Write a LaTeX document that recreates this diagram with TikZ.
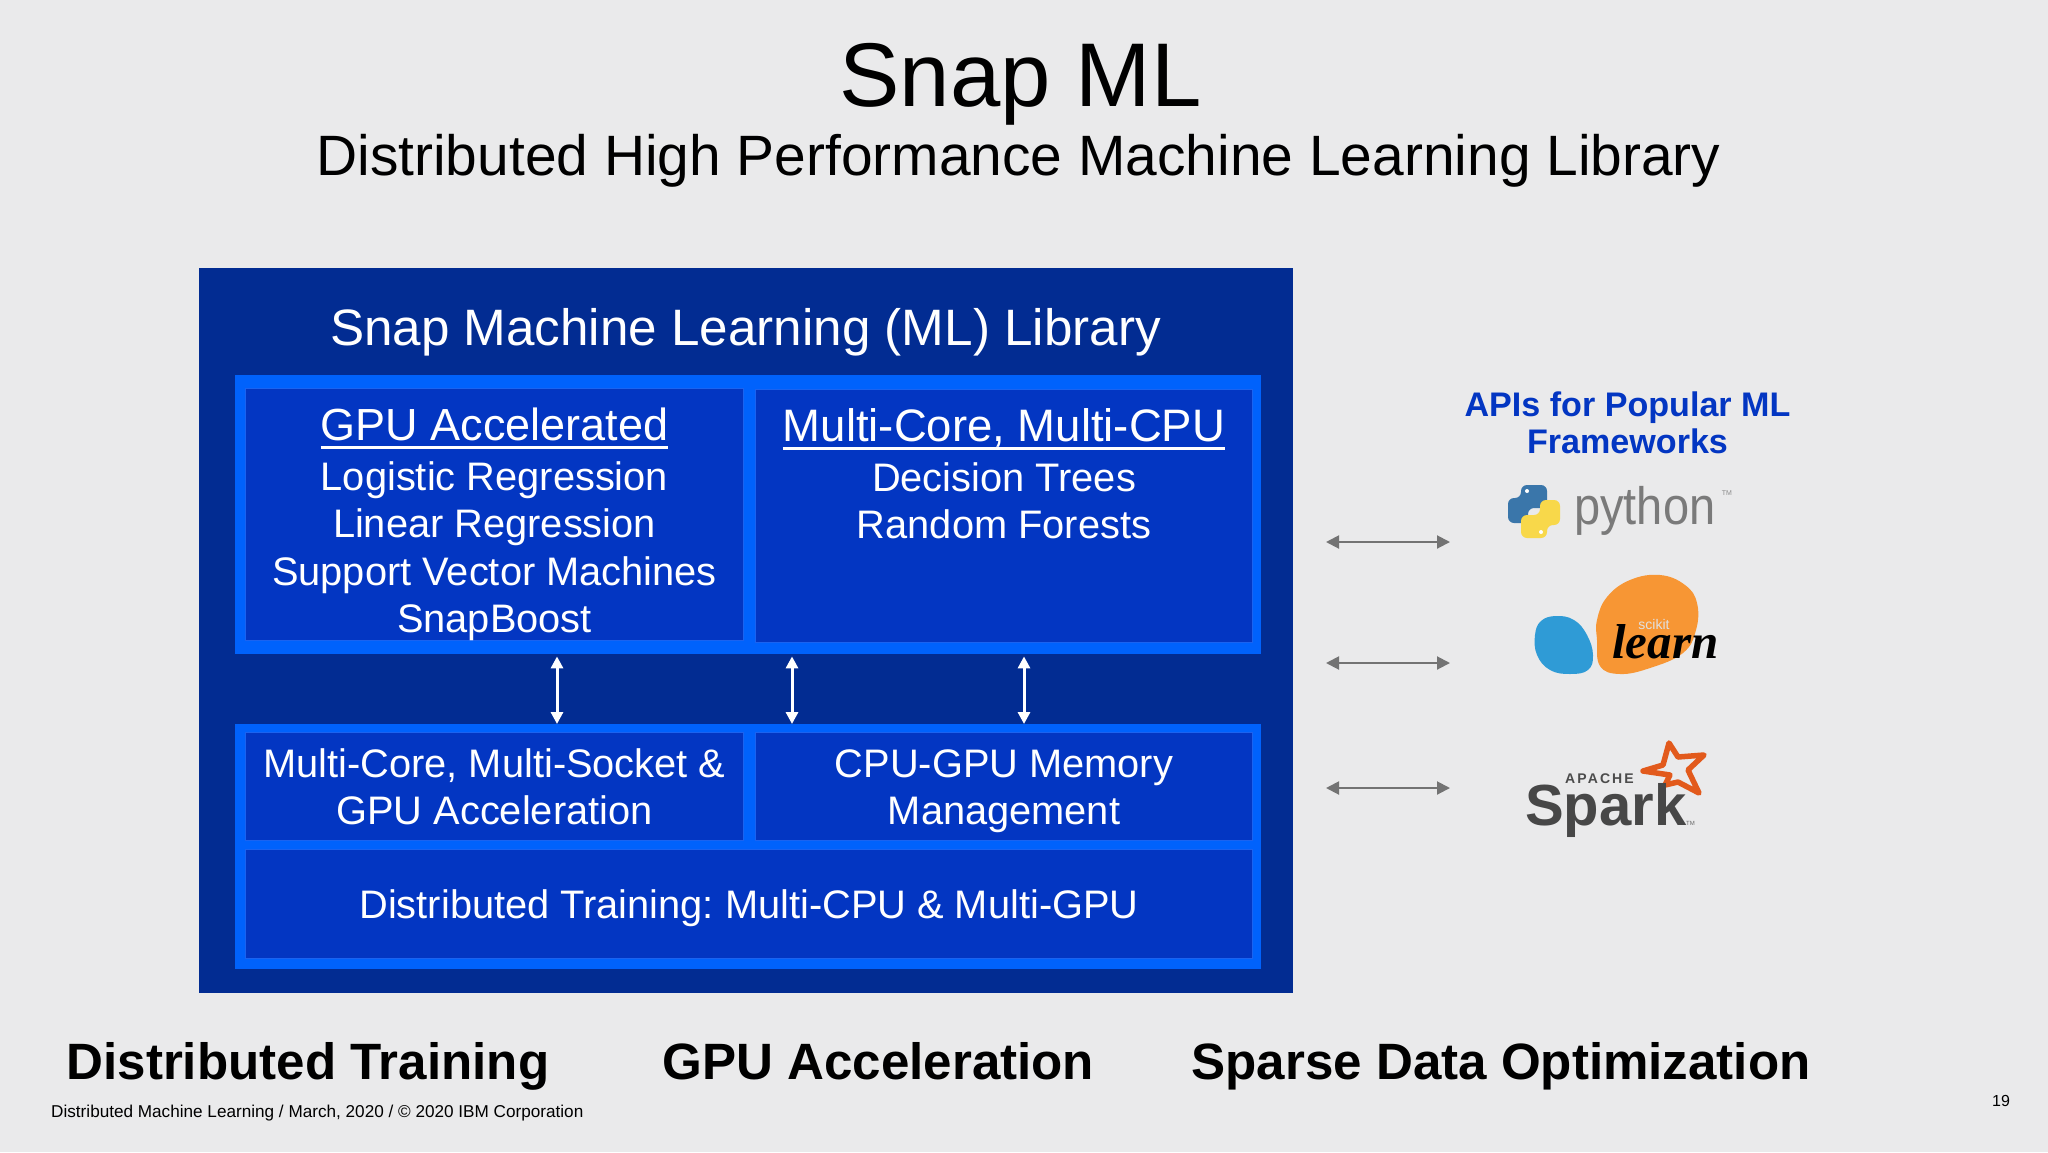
\documentclass[tikz,border=0pt]{standalone}
\usepackage{fontspec}
\setmainfont{Liberation Sans}
\newfontfamily\logoserif{Liberation Serif}
\newfontfamily\logocaps[LetterSpace=15]{Liberation Sans Bold}
\usetikzlibrary{arrows.meta,positioning}

\definecolor{slidebg}{HTML}{EAEAEB}
\definecolor{outerblue}{HTML}{022C92}
\definecolor{panelblue}{HTML}{0062FC}
\definecolor{cellblue}{HTML}{0336C2}
\definecolor{celledge}{HTML}{1B63F0}
\definecolor{apiblue}{HTML}{0336C2}

\newcommand{\headrule}[1]{\setbox0\hbox{#1}\rlap{\rule[-8.7pt]{\wd0}{3pt}}\box0}

\begin{document}
\frenchspacing
\begin{tikzpicture}[x=1pt,y=-1pt,font=\fontsize{39.8}{47.5}\selectfont,
  panel/.style={fill=panelblue,inner sep=0pt,anchor=north west},
  cell/.style={fill=cellblue,draw=celledge,line width=1pt,text=white,align=center,inner sep=0pt},
  bigbold/.style={font=\fontsize{51.1}{60}\selectfont\bfseries,anchor=base west},
  busarrow/.style={{Triangle[length=12pt,width=12pt]}-{Triangle[length=12pt,width=12pt]},white,line width=3pt},
  apiarrow/.style={{Triangle[length=13pt,width=13pt]}-{Triangle[length=13pt,width=13pt]},black!55,line width=2pt},
]
\useasboundingbox (0,0) rectangle (2048,1152);
\fill[slidebg] (0,0) rectangle (2048,1152);

\node[font=\fontsize{90.5}{100}\selectfont,anchor=base] (title) at (1020.5,106) {Snap ML};
\node[font=\fontsize{56.9}{68}\selectfont,anchor=base] (subtitle) at (1018.5,175) {Distributed High Performance Machine Learning Library};

\node[fill=outerblue,inner sep=0pt,anchor=north west,minimum width=1094pt,minimum height=725pt] (outer) at (199,268) {};
\node[font=\fontsize{51.2}{60}\selectfont,text=white,anchor=base] (libtitle) at (745.5,345.5) {Snap Machine Learning (ML) Library};

\node[panel,minimum width=1026pt,minimum height=279pt] (toppanel) at (235,375) {};
\node[panel,minimum width=1026pt,minimum height=245pt] (lowpanel) at (235,724) {};

\node[cell,anchor=north west,minimum width=498pt,text height=244pt,text depth=8pt] (gpu) at (245,388) {%
  {\fontsize{45}{47.5}\selectfont\headrule{GPU Accelerated}}\\[2pt]
  Logistic Regression\\ Linear Regression\\ Support Vector Machines\\ SnapBoost};
\node[cell,anchor=north west,minimum width=497pt,text height=149pt,text depth=104pt] (cpu) at (755,389) {%
  {\fontsize{45.5}{47.5}\selectfont\headrule{Multi-Core, Multi-CPU}}\\[2pt]
  Decision Trees\\ Random Forests};

\node[cell,anchor=north west,minimum width=498pt,text height=92pt,text depth=16pt] (socket) at (245,732) {Multi-Core, Multi-Socket \&\\ GPU Acceleration};
\node[cell,anchor=north west,minimum width=497pt,text height=92pt,text depth=16pt] (memory) at (755,732) {CPU-GPU Memory\\ Management};
\node[cell,anchor=north west,minimum width=1007pt,text height=69pt,text depth=40pt] (training) at (245,849) {Distributed Training: Multi-CPU \& Multi-GPU};

\foreach \x in {557,792,1024}
  \draw[busarrow,shorten <=2pt] (toppanel.south -| \x,0) -- (lowpanel.north -| \x,0);

\node[font=\fontsize{34.1}{37.5}\selectfont\bfseries,text=apiblue,align=center,text height=64pt,text depth=8pt] (apis) at (1627.5,425.5) {APIs for Popular ML\\ Frameworks};

\foreach \name/\y in {py/542,sk/663,sp/788} {
  \coordinate (\name left) at (1326,\y);
  \coordinate (\name right) at (1450,\y);
  \draw[apiarrow] (\name left) -- (\name right);
}

% python
\fill[rounded corners=6pt,fill={rgb,255:red,58;green,118;blue,170}] (1521,485) -- (1547,485) -- (1547,508) -- (1528,508) -- (1528,523) -- (1508,523) -- (1508,498) -- (1521,498) -- cycle;
\fill[rounded corners=6pt,fill={rgb,255:red,248;green,216;blue,74}] (1547,538) -- (1521,538) -- (1521,515) -- (1540,515) -- (1540,500) -- (1560,500) -- (1560,525) -- (1547,525) -- cycle;
\fill[white] (1527,491) circle (2pt) (1541,532) circle (2pt);
\node[font=\fontsize{47}{50}\selectfont,text=black!52,anchor=base west,inner sep=0pt] (python) at (1574,524) {\scalebox{1}[1.12]{python}};
\node[font=\fontsize{7}{8}\selectfont,text=black!45,anchor=base,inner sep=0pt] (pythontm) at (1727,495) {TM};

% scikit
\fill[fill={rgb,255:red,47;green,155;blue,214}] plot[smooth cycle,tension=0.7] coordinates {(1556,616) (1574,620) (1587,635) (1593,655) (1588,670) (1570,674) (1550,670) (1537,655) (1535,635) (1541,621)};
\fill[fill={rgb,255:red,247;green,150;blue,52}] plot[smooth cycle,tension=0.7] coordinates {(1607,597) (1630,580) (1660,575) (1685,585) (1697,603) (1696,630) (1683,653) (1650,668) (1620,674) (1600,666) (1597,640) (1597,620)};
\node[font=\fontsize{14}{16}\selectfont,text=black!12,anchor=base,inner sep=0pt] (scikit) at (1654,629) {scikit};
\node[font=\logoserif\fontsize{49}{52}\selectfont\bfseries\itshape,anchor=base west,inner sep=0pt] (learn) at (1612,658) {learn};

% spark
\draw[draw={rgb,255:red,226;green,90;blue,28},line width=5.5pt,line join=round] (1669,743) -- (1678,757) -- (1704,755) -- (1688,770) -- (1699,793) -- (1678,782) -- (1665,785) -- (1670,775) -- (1643,771) -- (1663,765) -- cycle;
\node[font=\logocaps\fontsize{14}{16}\selectfont,text=black!70,anchor=base west,inner sep=0pt] (apache) at (1565,783) {APACHE};
\node[font=\fontsize{58}{60}\selectfont\bfseries,text=black!72,anchor=base west,inner sep=0pt] (spark) at (1525,825) {Spark};
\node[font=\fontsize{6}{7}\selectfont,text=black!60,anchor=base west,inner sep=0pt] (sparktm) at (1686,825) {TM};

\node[bigbold] (distributed) at (63,1079) {Distributed Training};
\node[bigbold] (acceleration) at (659,1079) {GPU Acceleration};
\node[bigbold] (sparse) at (1188,1079) {Sparse Data Optimization};

\node[font=\fontsize{17.15}{20}\selectfont,anchor=base west,inner sep=0pt] (footer) at (51,1117) {Distributed Machine Learning / March, 2020 / © 2020 IBM Corporation};
\node[font=\fontsize{16}{18}\selectfont,anchor=base,inner sep=0pt] (page) at (2001,1106) {19};

\end{tikzpicture}
\end{document}
